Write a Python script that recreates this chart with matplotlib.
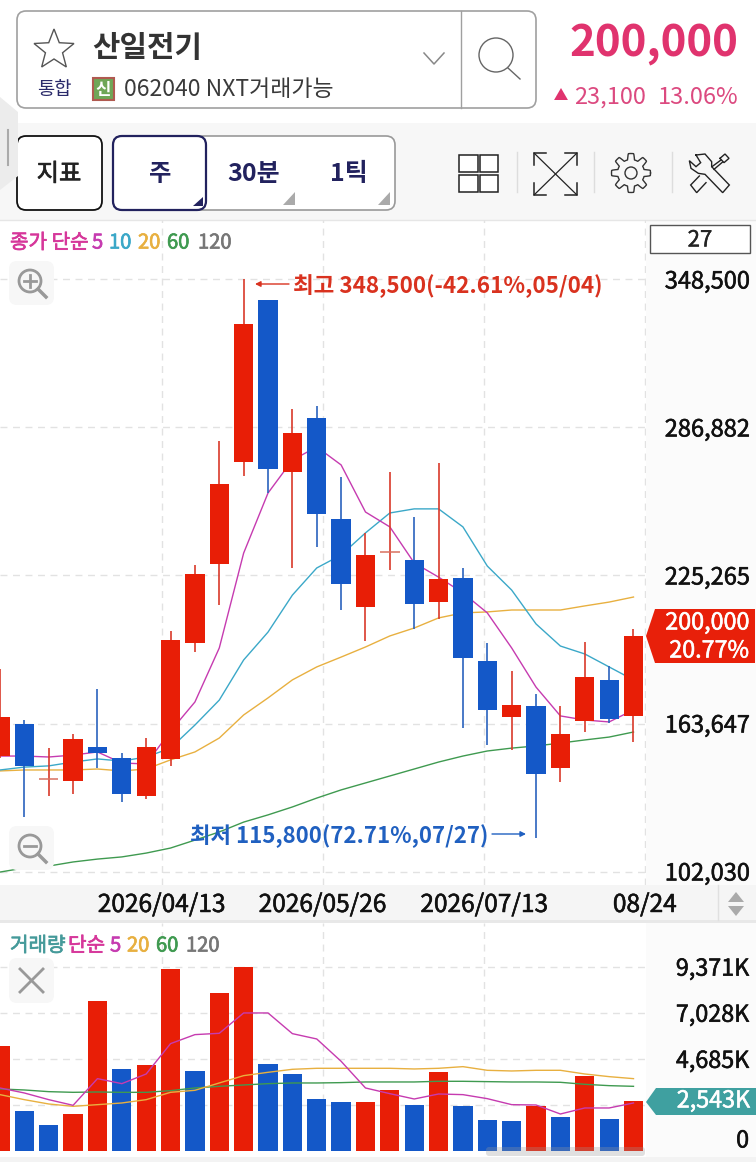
import numpy as np
import matplotlib
matplotlib.use("Agg")
import matplotlib.pyplot as plt
import matplotlib.patheffects as pe
from matplotlib.patches import FancyBboxPatch, Polygon, Circle, Rectangle, RegularPolygon

plt.rcParams['font.family'] = ['Noto Sans CJK KR', 'DejaVu Sans']

# ---------- data ----------
opens  = [150100,163400,140500,139700,153900,149300,133500,148900,197200,230100,272500,340000,268400,290800,
          248800,212100,235000,231700,214200,224200,189700,166400,170900,145100,164700,181800,166800]
closes = [166400,146000,140500,157200,151400,134300,153900,198400,225900,263400,330000,269600,284600,250900,
          221700,233800,235000,213400,223800,190900,169300,171300,142600,159300,183000,165500,200000]
highs  = [186300,165100,153400,159300,178000,151400,157600,202200,229600,281300,348500,340000,294600,295800,
          266300,243000,268400,249600,272100,228400,197200,185500,175900,170900,197600,187600,203000]
lows   = [149300,124700,133500,134300,145100,131000,132200,146000,193400,213000,266700,259600,228400,237100,
          210900,198000,227600,203000,207200,161800,154700,152600,115800,139300,160100,163900,155900]
ma5  = [150100,150100,149700,150500,151800,147200,146800,160500,172600,195100,234600,259600,273300,278800,
        271300,251700,245500,230500,224600,218000,209700,195100,178800,166800,165100,164300,169300]
ma10 = [144300,145500,146000,147600,148900,148000,149700,153400,163000,173400,190100,201700,217100,228400,
        233800,243000,251300,253000,253000,245500,229200,219200,205100,195900,192600,187200,181800]
ma20 = [143900,144300,144300,144300,144700,143900,144700,148500,151800,157600,167200,174300,181800,187200,
        191300,195500,200100,203400,207600,209700,210100,210900,210900,210900,212600,214200,216300]
ma60 = [101800,103500,104300,106000,107200,108100,109700,111800,115100,118500,122600,125600,128900,132600,
        136000,138900,141800,144700,147600,150100,152200,153400,154300,155500,156800,158000,160100]
price_ticks = [102030,163647,225265,286882,348500]
price_labels = ['102,030','163,647','225,265','286,882','348,500']
date_pos = [6.64,13.24,19.88,26.47]
date_labels = ['2026/04/13','2026/05/26','2026/07/13','08/24']

volumes = [5322,2051,1339,1898,7627,4170,4390,9255,4051,8051,9356,4407,3915,2644,2509,2509,
           3119,2356,4034,2271,1593,1509,2271,1729,3831,1644,2526]
vol_up = [1,0,0,1,1,0,1,1,0,1,1,0,0,0,0,1,1,0,1,0,0,0,1,0,1,0,1]
vma5 = [3204,2949,2610,2322,3678,3424,3915,5458,5916,5983,7017,7017,5966,5695,4560,3204,2915,2644,2898,2865,
        2661,2356,2339,1881,2187,2187,2441]
vma20 = [2865,2610,2390,2271,2356,2441,2610,2983,3085,3458,3831,4000,4153,4204,4204,4204,4204,4170,4204,4288,
         4102,4068,4102,4102,3915,3780,3678]
vma60 = [3153,3102,3017,2983,3000,2983,2983,3068,3204,3288,3356,3424,3458,3458,3475,3509,3509,3509,3543,3543,
         3526,3509,3509,3492,3390,3322,3288]
vol_ticks = [2343,4685,7028,9371]
vol_labels = ['','4,685K','7,028K','9,371K']

RED, BLUE = '#e81e06', '#1458c8'
WRED, WBLUE = '#d9392a', '#2a62be'
C5, C10, C20, C60, C120 = '#c63bb0', '#3ba8c8', '#e8b040', '#3f9a50', '#777777'
W, H = 756, 1162

fig = plt.figure(figsize=(W/100, H/100), dpi=100, facecolor='white')

def pix_axes(z):
    a = fig.add_axes([0, 0, 1, 1], zorder=z)
    a.set_xlim(0, W); a.set_ylim(H, 0); a.axis('off'); a.patch.set_alpha(0)
    return a

def box(a, x0, y0, x1, y1, r=8, **kw):
    p = FancyBboxPatch((x0+r, y0+r), x1-x0-2*r, y1-y0-2*r, boxstyle=f"round,pad={r},rounding_size={r}", **kw)
    a.add_patch(p); return p

def thick(t, c, w=0.5):
    t.set_path_effects([pe.withStroke(linewidth=w, foreground=c)])
    return t

bg = pix_axes(0)
fg = pix_axes(5)

# backgrounds
bg.add_patch(Rectangle((0, 123), W, 97, fc='#f7f7f7', ec='none'))
bg.add_patch(Rectangle((646, 220), 110, 700, fc='#fbfbfb', ec='none'))
bg.add_patch(Rectangle((0, 885), W, 35, fc='#f5f5f5', ec='none'))
bg.add_patch(Rectangle((0, 920), W, 3, fc='#e8e8e8', ec='none'))
bg.add_patch(Rectangle((646, 923), 110, 234, fc='#fbfbfb', ec='none'))
bg.add_patch(Rectangle((0, 1157), W, 5, fc='#f3f3f3', ec='none'))
bg.plot([0, W], [220, 220], color='#e6e6e6', lw=1)

# left tab
bg.add_patch(Polygon([(0, 97), (18, 112), (18, 176), (0, 190)], fc='#ececec', ec='none', zorder=3))
bg.plot([8, 8], [130, 165], color='#aaaaaa', lw=1.5, zorder=4)

# header box
box(bg, 17, 11, 536, 108, r=9, fc='white', ec='#a0a0a0', lw=1.2)
bg.plot([461, 461], [11, 108], color='#a0a0a0', lw=1)
ang = np.deg2rad(np.arange(0, 360, 36) - 90)
rad = np.where(np.arange(10) % 2 == 0, 21, 9)
bg.add_patch(Polygon(np.c_[54 + rad*np.cos(ang), 50 + rad*np.sin(ang)], fc='white', ec='#555555', lw=1))
bg.text(92, 48, '산일전기', fontsize=21.5, fontweight='bold', color='#333333', va='center', ha='left')
bg.text(54, 89, '통합', fontsize=13.5, color='#2a2a6a', va='center', ha='center')
bg.add_patch(Rectangle((92.5, 77.5), 21, 22, fc='#6fa657', ec='#b05a50', lw=1.5))
bg.text(103, 90, '신', fontsize=12, color='white', va='center', ha='center', fontweight='bold')
bg.text(124, 90, '062040 NXT거래가능', fontsize=16.5, color='#3a3a3a', va='center', ha='left')
bg.plot([424, 434, 444], [53, 64, 53], color='#888888', lw=1.1)
bg.add_patch(Circle((496, 55), 17, fc='none', ec='#666666', lw=1))
bg.plot([508, 520], [68, 79], color='#666666', lw=1)
bg.text(738, 44, '200,000', fontsize=31.5, fontweight='bold', color='#e0336e', va='center', ha='right')
bg.add_patch(RegularPolygon((561, 96), 3, radius=8, orientation=np.pi, fc='#e0336e', ec='none'))
bg.text(646, 97, '23,100', fontsize=17, color='#dc4a80', va='center', ha='right')
bg.text(739, 97, '13.06%', fontsize=17, color='#dc4a80', va='center', ha='right')

# toolbar
box(bg, 17, 136, 102, 210, r=9, fc='white', ec='#111111', lw=1.3)
thick(bg.text(59, 174, '지표', fontsize=17.5, color='#222222', va='center', ha='center'), '#222222')
box(bg, 113, 136, 395, 210, r=9, fc='white', ec='#999999', lw=1.2)
box(bg, 113, 136, 206, 210, r=9, fc='white', ec='#22225e', lw=1.6)
bg.text(160, 174, '주', fontsize=17.5, color='#22225e', va='center', ha='center', fontweight='bold')
bg.text(254, 174, '30분', fontsize=18, color='#22225e', va='center', ha='center', fontweight='bold')
bg.text(349, 174, '1틱', fontsize=18, color='#22225e', va='center', ha='center', fontweight='bold')
bg.add_patch(Polygon([(203, 197), (203, 206), (193, 206)], fc='#22225e', ec='none'))
bg.add_patch(Polygon([(295, 192), (295, 205), (283, 205)], fc='#aaaaaa', ec='none'))
bg.add_patch(Polygon([(390, 192), (390, 205), (378, 205)], fc='#aaaaaa', ec='none'))
for xx in (459, 479.5):
    for yy in (155, 175):
        bg.add_patch(Rectangle((xx, yy), 18.5, 17, fc='white', ec='#222222', lw=1.1))
for xx in (517, 594, 672):
    bg.plot([xx, xx], [152, 192], color='#dddddd', lw=1)
bg.plot([534, 577], [153, 195], color='#222222', lw=0.9)
bg.plot([534, 577], [195, 153], color='#222222', lw=0.9)
for (cx, cy, sx, sy) in [(534, 153, 1, 1), (577, 153, -1, 1), (534, 195, 1, -1), (577, 195, -1, -1)]:
    bg.plot([cx+sx*12, cx, cx], [cy, cy, cy+sy*12], color='#222222', lw=1.1)
t = np.linspace(0, 2*np.pi, 241)
rg = 16.5 + 3.0*np.clip(2.2*np.cos(8*t), -1, 1)
bg.plot(631 + rg*np.cos(t), 173 + rg*np.sin(t), color='#333333', lw=1)
bg.add_patch(Circle((631, 173), 6, fc='none', ec='#333333', lw=1))
# tools icon (outline traced in crop units: 3 per pixel from 590,140)
def tool(pts):
    a = np.array(pts, float)
    bg.plot(590 + a[:, 0]/3, 140 + a[:, 1]/3, color='#222222', lw=1, solid_joinstyle='miter')
tool([(318,45),(345,42),(365,65),(365,80),(418,135),(398,158),(345,103),(325,100),(303,85),(298,62),(318,80),(332,68),(318,45)])
tool([(328,108),(302,135),(320,158),(348,128)])
tool([(366,80),(393,60)])
tool([(372,88),(398,66)])
tool([(390,55),(405,42),(417,55),(402,68),(390,55)])

# ---------- price chart ----------
ax = fig.add_axes([0, 1-885/H, 646/W, (885-220)/H], zorder=2)
ax.patch.set_alpha(0)
ax.set_xlim(0, 646/24.365)
ax.set_ylim(96410, 373270)
x = np.arange(len(opens))
ax.set_yticks(price_ticks)
ax.set_yticklabels(price_labels, fontsize=17, color='#111111')
ax.yaxis.tick_right()
ax.set_xticks(date_pos)
ax.set_xticklabels(date_labels, fontsize=17.6, color='#111111')
ax.tick_params(axis='both', length=0)
ax.tick_params(axis='y', pad=13.5)
ax.tick_params(axis='x', pad=5)
for lab in ax.get_xticklabels() + ax.get_yticklabels():
    thick(lab, '#111111', 0.4)
ax.grid(True, color='#e2e2e2', lw=1, ls=(0, (5, 4)))
ax.set_axisbelow(True)
for s in ax.spines.values():
    s.set_visible(False)
for series, c in [(ma60, C60), (ma20, C20), (ma10, C10), (ma5, C5)]:
    ax.plot(x, series, color=c, lw=1.0, zorder=2)
for i in x:
    up = closes[i] >= opens[i]
    ax.vlines(i, lows[i], highs[i], color=WRED if up else WBLUE, lw=1.2, zorder=3)
    if opens[i] == closes[i]:
        ax.hlines(closes[i], i-0.4, i+0.4, color='#d9705f', lw=1.1, zorder=3)
    else:
        ax.bar(i, abs(closes[i]-opens[i]), bottom=min(opens[i], closes[i]), width=0.79,
               color=RED if up else BLUE, zorder=4)

# ---------- volume chart ----------
av = fig.add_axes([0, 1-1151/H, 646/W, (1151-923)/H], zorder=2)
av.patch.set_alpha(0)
av.set_xlim(0, 646/24.365)
av.set_ylim(0, 11590)
av.set_yticks(vol_ticks)
av.set_yticklabels(vol_labels, fontsize=16.8, color='#111111')
av.yaxis.tick_right()
av.set_xticks(date_pos[:3])
av.set_xticklabels([])
av.tick_params(axis='both', length=0)
av.tick_params(axis='y', pad=21.5)
for lab in av.get_yticklabels():
    thick(lab, '#111111', 0.4)
av.grid(True, color='#e2e2e2', lw=1, ls=(0, (5, 4)))
av.set_axisbelow(True)
for s in av.spines.values():
    s.set_visible(False)
av.bar(x, volumes, width=0.79, color=[RED if u else BLUE for u in vol_up], zorder=2)
for series, c in [(vma60, C60), (vma20, C20), (vma5, C5)]:
    av.plot(x, series, color=c, lw=1.0, zorder=3)

# ---------- overlay ----------
def legend(items, y):
    for left, txt, c in items:
        thick(fg.text(left, y, txt, fontsize=14.5, color=c, va='center', ha='left'), c, 0.5)

legend([(10, '종가 단순', '#d6369a'), (92, '5', C5), (109, '10', C10), (138, '20', C20),
        (167, '60', C60), (198, '120', C120)], 243)
legend([(10, '거래량', '#459a9a'), (68, '단순', '#d6369a'), (110, '5', C5), (127, '20', C20),
        (156, '60', C60), (186, '120', C120)], 946)
fg.add_patch(Rectangle((650, 225), 100, 28, fc='white', ec='#555555', lw=1))
thick(fg.text(700, 240, '27', fontsize=16, color='#222222', va='center', ha='center'), '#222222', 0.3)

# zoom buttons
for (yt, plus) in [(261, True), (826, False)]:
    box(fg, 9, yt, 54, yt+44, r=8, fc='#f7f7f7', ec='none')
    fg.add_patch(Circle((30, yt+20), 11, fc='none', ec='#999999', lw=2))
    fg.plot([38, 46], [yt+28, yt+36], color='#999999', lw=2.5)
    fg.plot([24, 36], [yt+20, yt+20], color='#999999', lw=2)
    if plus:
        fg.plot([30, 30], [yt+14, yt+26], color='#999999', lw=2)
box(fg, 9, 958, 54, 1003, r=8, fc='#f7f7f7', ec='none')
fg.plot([20, 43], [969, 992], color='#999999', lw=2)
fg.plot([20, 43], [992, 969], color='#999999', lw=2)

# annotations
fg.annotate('', xy=(255, 284), xytext=(289, 284), arrowprops=dict(arrowstyle='-|>', color='#d9321f', lw=1, mutation_scale=8, shrinkA=0, shrinkB=0))
fg.text(293, 286, '최고 348,500(-42.61%,05/04)', fontsize=16.2, fontweight='bold', color='#d9321f', va='center', ha='left')
fg.text(190, 836, '최저 115,800(72.71%,07/27)', fontsize=16, fontweight='bold', color='#2060c0', va='center', ha='left')
fg.annotate('', xy=(526, 834), xytext=(492, 834), arrowprops=dict(arrowstyle='-|>', color='#2060c0', lw=1, mutation_scale=8, shrinkA=0, shrinkB=0))

# price badge
fg.add_patch(Polygon([(646, 636), (655, 609), (755, 609), (755, 663), (655, 663)], fc='#e8200a', ec='none'))
thick(fg.text(749, 623, '200,000', fontsize=16.8, color='white', va='center', ha='right'), 'white', 0.4)
thick(fg.text(749, 651, '20.77%', fontsize=16.8, color='white', va='center', ha='right'), 'white', 0.4)
fg.add_patch(Polygon([(646, 1102), (656, 1088), (756, 1088), (756, 1115), (656, 1115)], fc='#3fa0a0', ec='none'))
thick(fg.text(750, 1101, '2,543K', fontsize=16.8, color='white', va='center', ha='right'), 'white', 0.4)
thick(fg.text(749, 1141, '0', fontsize=16.8, color='#111111', va='center', ha='right'), '#111111', 0.4)

# x scroll arrows
fg.plot([718, 718], [885, 920], color='#e0e0e0', lw=1)
fg.add_patch(Polygon([(736, 892), (744, 902), (728, 902)], fc='#aaaaaa', ec='none'))
fg.add_patch(Polygon([(736, 916), (744, 906), (728, 906)], fc='#aaaaaa', ec='none'))

# bottom scroll bar
box(fg, 486, 1147, 645, 1156, r=3, fc='#999999', ec='none', alpha=0.3)

fig.savefig('out.png', dpi=100, facecolor='white')
